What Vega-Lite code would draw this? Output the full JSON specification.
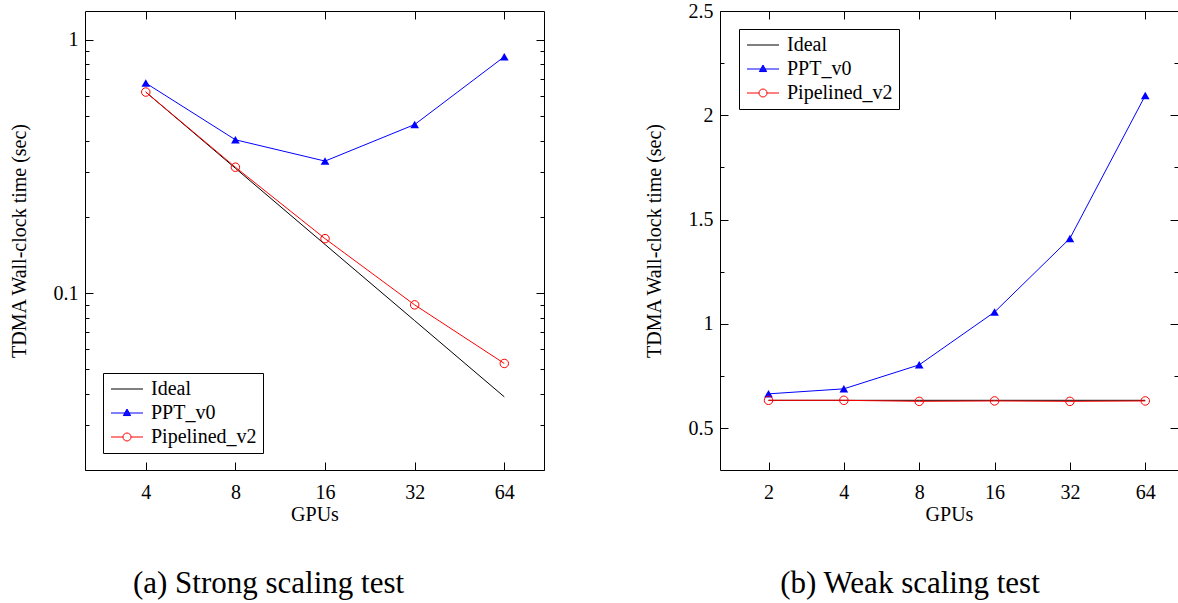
{
  "$schema": "https://vega.github.io/schema/vega-lite/v6.json",
  "background": "white",
  "padding": {"left": 8, "top": 0, "right": 0, "bottom": 0},
  "spacing": 98,
  "datasets": {
    "strong": [
      {"series": "Ideal", "gpus": 4, "time": 0.622},
      {"series": "Ideal", "gpus": 8, "time": 0.311},
      {"series": "Ideal", "gpus": 16, "time": 0.1555},
      {"series": "Ideal", "gpus": 32, "time": 0.0778},
      {"series": "Ideal", "gpus": 64, "time": 0.0389},
      {"series": "PPT_v0", "gpus": 4, "time": 0.675},
      {"series": "PPT_v0", "gpus": 8, "time": 0.403},
      {"series": "PPT_v0", "gpus": 16, "time": 0.332},
      {"series": "PPT_v0", "gpus": 32, "time": 0.463},
      {"series": "PPT_v0", "gpus": 64, "time": 0.858},
      {"series": "Pipelined_v2", "gpus": 4, "time": 0.622},
      {"series": "Pipelined_v2", "gpus": 8, "time": 0.314},
      {"series": "Pipelined_v2", "gpus": 16, "time": 0.164},
      {"series": "Pipelined_v2", "gpus": 32, "time": 0.0898},
      {"series": "Pipelined_v2", "gpus": 64, "time": 0.0527}
    ],
    "weak": [
      {"series": "Ideal", "gpus": 2, "time": 0.634},
      {"series": "Ideal", "gpus": 4, "time": 0.634},
      {"series": "Ideal", "gpus": 8, "time": 0.634},
      {"series": "Ideal", "gpus": 16, "time": 0.634},
      {"series": "Ideal", "gpus": 32, "time": 0.634},
      {"series": "Ideal", "gpus": 64, "time": 0.634},
      {"series": "PPT_v0", "gpus": 2, "time": 0.665},
      {"series": "PPT_v0", "gpus": 4, "time": 0.689},
      {"series": "PPT_v0", "gpus": 8, "time": 0.804},
      {"series": "PPT_v0", "gpus": 16, "time": 1.057},
      {"series": "PPT_v0", "gpus": 32, "time": 1.41},
      {"series": "PPT_v0", "gpus": 64, "time": 2.095},
      {"series": "Pipelined_v2", "gpus": 2, "time": 0.634},
      {"series": "Pipelined_v2", "gpus": 4, "time": 0.634},
      {"series": "Pipelined_v2", "gpus": 8, "time": 0.629},
      {"series": "Pipelined_v2", "gpus": 16, "time": 0.631},
      {"series": "Pipelined_v2", "gpus": 32, "time": 0.629},
      {"series": "Pipelined_v2", "gpus": 64, "time": 0.631}
    ]
  },
  "resolve": {
    "scale": {"color": "independent", "shape": "independent", "stroke": "independent"},
    "legend": {"color": "independent", "shape": "independent", "stroke": "independent"}
  },
  "hconcat": [
    {
      "width": 459,
      "height": 459,
      "data": {"name": "strong"},
      "title": {"text": "(a) Strong scaling test", "orient": "bottom", "anchor": "middle", "frame": "group", "offset": 45, "dx": -46, "fontSize": 31, "font": "Liberation Serif", "fontWeight": "normal", "color": "black"},
      "layer": [
        {
          "mark": {"type": "point", "filled": false},
          "encoding": {
            "x": {"field": "gpus", "type": "quantitative", "scale": {"type": "log", "base": 2, "domain": [2.5, 87], "nice": false}, "axis": null},
            "y": {"field": "time", "type": "quantitative", "scale": {"type": "log", "domain": [0.02, 1.3], "nice": false},
                  "axis": {"orient": "right", "values": [0.02, 0.03, 0.04, 0.05, 0.06, 0.07, 0.08, 0.09, 0.2, 0.3, 0.4, 0.5, 0.6, 0.7, 0.8, 0.9], "tickSize": -4, "labels": false, "title": null}},
            "opacity": {"value": 0},
            "shape": {"field": "series", "type": "nominal",
                      "scale": {"domain": ["Ideal", "PPT_v0", "Pipelined_v2"], "range": ["M-1,0H3", "M-1,0H3M1,-0.5L1.45,0.32L0.55,0.32ZM0.945,-0.4H1.055M0.89,-0.3H1.11M0.835,-0.2H1.165M0.78,-0.1H1.22M0.726,0H1.274M0.67,0.1H1.33M0.616,0.2H1.384M0.56,0.3H1.44", "M-1,0H0.5M1.5,0H3M0.5,0A0.5,0.5,0,1,0,1.5,0A0.5,0.5,0,1,0,0.5,0Z"]},
                      "legend": {"title": null, "orient": "none", "legendX": 18, "legendY": 362}},
            "stroke": {"field": "series", "type": "nominal",
                       "scale": {"domain": ["Ideal", "PPT_v0", "Pipelined_v2"], "range": ["black", "blue", "red"]},
                       "legend": {"title": null, "orient": "none", "legendX": 18, "legendY": 362}}
          }
        },
        {
          "mark": {"type": "line", "strokeWidth": 1},
          "encoding": {
            "x": {"field": "gpus", "type": "quantitative", "scale": {"type": "log", "base": 2, "domain": [2.5, 87], "nice": false},
                  "axis": {"orient": "bottom", "values": [4, 8, 16, 32, 64], "format": "d", "tickSize": -8, "labelPadding": 20, "title": "GPUs", "titlePadding": 2}},
            "y": {"field": "time", "type": "quantitative", "scale": {"type": "log", "domain": [0.02, 1.3], "nice": false},
                  "axis": {"orient": "left", "values": [0.1, 1], "tickSize": -8, "labelPadding": 15, "labelExpr": "datum.value >= 1 ? '1' : '0.1'", "title": "TDMA Wall-clock time (sec)", "titlePadding": 24}},
            "color": {"field": "series", "type": "nominal", "scale": {"domain": ["Ideal", "PPT_v0", "Pipelined_v2"], "range": ["black", "blue", "red"]}, "legend": null}
          }
        },
        {
          "transform": [{"filter": "datum.series == 'PPT_v0'"}],
          "mark": {"type": "point", "shape": "triangle-up", "filled": true, "color": "blue", "size": 75, "opacity": 1},
          "encoding": {
            "x": {"field": "gpus", "type": "quantitative", "scale": {"type": "log", "base": 2, "domain": [2.5, 87], "nice": false},
                  "axis": {"orient": "top", "values": [4, 8, 16, 32, 64], "tickSize": -8, "labels": false, "title": null}},
            "y": {"field": "time", "type": "quantitative", "scale": {"type": "log", "domain": [0.02, 1.3], "nice": false},
                  "axis": {"orient": "right", "values": [0.1, 1], "tickSize": -8, "labels": false, "title": null}}
          }
        },
        {
          "transform": [{"filter": "datum.series == 'Pipelined_v2'"}],
          "mark": {"type": "point", "shape": "circle", "filled": false, "color": "red", "size": 72, "strokeWidth": 1, "opacity": 1},
          "encoding": {
            "x": {"field": "gpus", "type": "quantitative", "scale": {"type": "log", "base": 2, "domain": [2.5, 87], "nice": false}, "axis": null},
            "y": {"field": "time", "type": "quantitative", "scale": {"type": "log", "domain": [0.02, 1.3], "nice": false},
                  "axis": {"orient": "left", "values": [0.02, 0.03, 0.04, 0.05, 0.06, 0.07, 0.08, 0.09, 0.2, 0.3, 0.4, 0.5, 0.6, 0.7, 0.8, 0.9], "tickSize": -4, "labels": false, "title": null}}
          }
        }
      ],
      "resolve": {"axis": {"x": "independent", "y": "independent"}}
    },
    {
      "width": 458,
      "height": 459,
      "data": {"name": "weak"},
      "title": {"text": "(b) Weak scaling test", "orient": "bottom", "anchor": "middle", "frame": "group", "offset": 45, "dx": -39, "fontSize": 31, "font": "Liberation Serif", "fontWeight": "normal", "color": "black"},
      "layer": [
        {
          "mark": {"type": "point", "filled": false},
          "encoding": {
            "x": {"field": "gpus", "type": "quantitative", "scale": {"type": "log", "base": 2, "domain": [1.28, 86.5], "nice": false}, "axis": null},
            "y": {"field": "time", "type": "quantitative", "scale": {"type": "linear", "domain": [0.3, 2.5], "nice": false, "zero": false},
                  "axis": {"orient": "right", "values": [0.75, 1.25, 1.75, 2.25], "tickSize": -4, "labels": false, "title": null}},
            "opacity": {"value": 0},
            "shape": {"field": "series", "type": "nominal",
                      "scale": {"domain": ["Ideal", "PPT_v0", "Pipelined_v2"], "range": ["M-1,0H3", "M-1,0H3M1,-0.5L1.45,0.32L0.55,0.32ZM0.945,-0.4H1.055M0.89,-0.3H1.11M0.835,-0.2H1.165M0.78,-0.1H1.22M0.726,0H1.274M0.67,0.1H1.33M0.616,0.2H1.384M0.56,0.3H1.44", "M-1,0H0.5M1.5,0H3M0.5,0A0.5,0.5,0,1,0,1.5,0A0.5,0.5,0,1,0,0.5,0Z"]},
                      "legend": {"title": null, "orient": "none", "legendX": 19, "legendY": 18}},
            "stroke": {"field": "series", "type": "nominal",
                       "scale": {"domain": ["Ideal", "PPT_v0", "Pipelined_v2"], "range": ["black", "blue", "red"]},
                       "legend": {"title": null, "orient": "none", "legendX": 19, "legendY": 18}}
          }
        },
        {
          "mark": {"type": "line", "strokeWidth": 1},
          "encoding": {
            "x": {"field": "gpus", "type": "quantitative", "scale": {"type": "log", "base": 2, "domain": [1.28, 86.5], "nice": false},
                  "axis": {"orient": "bottom", "values": [2, 4, 8, 16, 32, 64], "format": "d", "tickSize": -8, "labelPadding": 20, "title": "GPUs", "titlePadding": 2}},
            "y": {"field": "time", "type": "quantitative", "scale": {"type": "linear", "domain": [0.3, 2.5], "nice": false, "zero": false},
                  "axis": {"orient": "left", "values": [0.5, 1, 1.5, 2, 2.5], "format": "~g", "tickSize": -8, "labelPadding": 15, "title": "TDMA Wall-clock time (sec)", "titlePadding": 24}},
            "color": {"field": "series", "type": "nominal", "scale": {"domain": ["Ideal", "PPT_v0", "Pipelined_v2"], "range": ["black", "blue", "red"]}, "legend": null}
          }
        },
        {
          "transform": [{"filter": "datum.series == 'PPT_v0'"}],
          "mark": {"type": "point", "shape": "triangle-up", "filled": true, "color": "blue", "size": 75, "opacity": 1},
          "encoding": {
            "x": {"field": "gpus", "type": "quantitative", "scale": {"type": "log", "base": 2, "domain": [1.28, 86.5], "nice": false},
                  "axis": {"orient": "top", "values": [2, 4, 8, 16, 32, 64], "tickSize": -8, "labels": false, "title": null}},
            "y": {"field": "time", "type": "quantitative", "scale": {"type": "linear", "domain": [0.3, 2.5], "nice": false, "zero": false},
                  "axis": {"orient": "right", "values": [0.5, 1, 1.5, 2, 2.5], "tickSize": -8, "labels": false, "title": null}}
          }
        },
        {
          "transform": [{"filter": "datum.series == 'Pipelined_v2'"}],
          "mark": {"type": "point", "shape": "circle", "filled": false, "color": "red", "size": 72, "strokeWidth": 1, "opacity": 1},
          "encoding": {
            "x": {"field": "gpus", "type": "quantitative", "scale": {"type": "log", "base": 2, "domain": [1.28, 86.5], "nice": false}, "axis": null},
            "y": {"field": "time", "type": "quantitative", "scale": {"type": "linear", "domain": [0.3, 2.5], "nice": false, "zero": false},
                  "axis": {"orient": "left", "values": [0.75, 1.25, 1.75, 2.25], "tickSize": -4, "labels": false, "title": null}}
          }
        }
      ],
      "resolve": {"axis": {"x": "independent", "y": "independent"}}
    }
  ],
  "config": {
    "view": {"stroke": "black", "strokeWidth": 1},
    "axis": {"labelFont": "Liberation Serif", "titleFont": "Liberation Serif", "labelFontSize": 20, "titleFontSize": 20, "titleFontWeight": "normal", "labelColor": "black", "titleColor": "black", "tickColor": "black", "tickWidth": 1, "domain": false, "grid": false, "labelFlush": false, "labelOverlap": false},
    "legend": {"fillColor": "white", "strokeColor": "black", "padding": 6, "symbolSize": 256, "symbolStrokeWidth": 1, "labelFont": "Liberation Serif", "labelFontSize": 20, "labelColor": "black", "labelOffset": 22, "rowPadding": 4, "cornerRadius": 0}
  }
}
